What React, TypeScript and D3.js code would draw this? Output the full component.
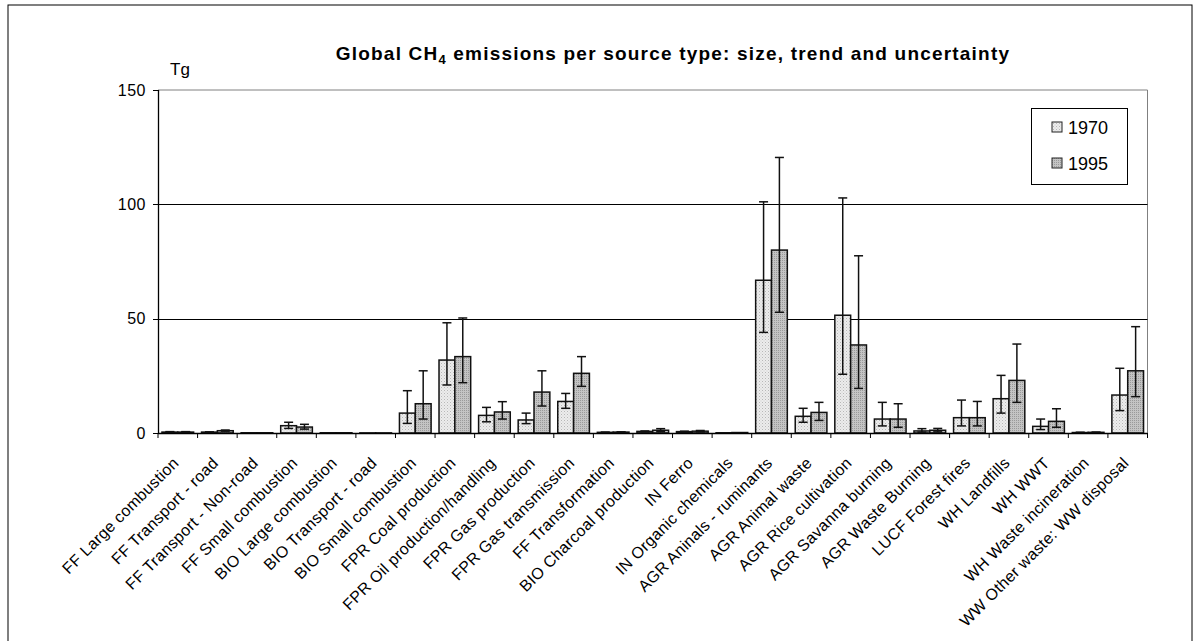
import React from "react";
import * as d3 from "d3";

const categories = [
  "FF Large combustion",
  "FF Transport - road",
  "FF Transport - Non-road",
  "FF Small combustion",
  "BIO Large combustion",
  "BIO Transport - road",
  "BIO Small combustion",
  "FPR Coal production",
  "FPR Oil production/handling",
  "FPR Gas production",
  "FPR Gas transmission",
  "FF Transformation",
  "BIO Charcoal production",
  "IN Ferro",
  "IN Organic chemicals",
  "AGR Aninals - ruminants",
  "AGR Animal waste",
  "AGR Rice cultivation",
  "AGR Savanna burning",
  "AGR Waste Burning",
  "LUCF Forest fires",
  "WH Landfills",
  "WH WWT",
  "WH Waste incineration",
  "WW Other waste: WW disposal",
];

const years = ["1970", "1995"];

const v1970 = [0.4, 0.4, 0.1, 3.2, 0.1, 0.05, 8.7, 31.9, 7.7, 5.7, 13.8, 0.3, 0.7, 0.6, 0.1, 66.8, 7.3, 51.5, 6.1, 0.9, 6.7, 15.0, 2.9, 0.2, 16.6];
const lo1970 = [0.3, 0.3, 0.1, 2.0, 0.1, 0.05, 4.2, 21.0, 4.9, 4.1, 10.8, 0.2, 0.5, 0.4, 0.1, 44.0, 4.7, 25.7, 3.1, 0.4, 3.1, 8.7, 1.5, 0.2, 9.8];
const hi1970 = [0.6, 0.5, 0.1, 4.7, 0.1, 0.05, 18.5, 48.2, 11.2, 8.7, 17.3, 0.4, 0.9, 0.8, 0.1, 101.1, 10.8, 102.8, 13.4, 1.9, 14.4, 25.2, 6.1, 0.3, 28.3];

const v1995 = [0.4, 1.0, 0.1, 2.6, 0.1, 0.05, 12.8, 33.4, 9.2, 17.9, 26.1, 0.4, 1.2, 0.8, 0.2, 80.0, 9.0, 38.5, 6.1, 1.2, 6.7, 23.0, 5.1, 0.3, 27.2];
const lo1995 = [0.3, 0.8, 0.1, 1.7, 0.1, 0.05, 6.1, 22.0, 6.1, 11.8, 20.4, 0.3, 0.6, 0.5, 0.2, 52.8, 5.5, 19.5, 2.5, 0.5, 3.1, 13.4, 2.5, 0.2, 15.9];
const hi1995 = [0.6, 1.3, 0.1, 3.8, 0.1, 0.05, 27.2, 50.3, 13.7, 27.2, 33.4, 0.5, 1.9, 1.1, 0.2, 120.5, 13.4, 77.5, 12.8, 2.0, 13.8, 38.9, 10.6, 0.4, 46.5];

const yTicks = [0, 50, 100, 150];

const FONT = "Arial, 'Liberation Sans', Helvetica, sans-serif";

export default function App() {
  const W = 1200;
  const H = 641;
  const left = 158;
  const right = 1147.5;
  const top = 90;
  const bottom = 433;

  const x = d3.scaleBand<string>().domain(categories).range([left, right]).paddingInner(0).paddingOuter(0);
  const xi = d3.scaleBand<string>().domain(years).range([0, x.bandwidth()]).paddingInner(0).paddingOuter(0.25);
  const y = d3.scaleLinear().domain([0, 150]).range([bottom, top]);

  const series = [
    { year: "1970", v: v1970, lo: lo1970, hi: hi1970, fill: "url(#pat1970)" },
    { year: "1995", v: v1995, lo: lo1995, hi: hi1995, fill: "url(#pat1995)" },
  ];

  const capW = 9;

  return (
    <svg width={W} height={H} style={{ position: "absolute", left: 0, top: 0, background: "#fff" }} fontFamily={FONT}>
      <defs>
        <pattern id="pat1970" width="3" height="3" patternUnits="userSpaceOnUse">
          <rect width="3" height="3" fill="#ececec" />
          <rect x="0" y="0" width="1" height="1" fill="#b8b8b8" />
          <rect x="1.5" y="1.5" width="1" height="1" fill="#cfcfcf" />
        </pattern>
        <pattern id="pat1995" width="2" height="2" patternUnits="userSpaceOnUse">
          <rect width="2" height="2" fill="#c4c4c4" />
          <rect x="0" y="0" width="1" height="1" fill="#9a9a9a" />
        </pattern>
      </defs>
      <rect x={0} y={0} width={W} height={H} fill="#fff" />
      {/* outer chart border */}
      <rect x={8} y={5} width={1184} height={650} fill="none" stroke="#000" strokeWidth={1} />

      {/* title */}
      <text x={673} y={60} textAnchor="middle" fontSize={19} fontWeight="bold" fill="#000" letterSpacing={1.2}>
        Global CH<tspan fontSize={13} dy={4}>4</tspan>
        <tspan dy={-4}> emissions per source type: size, trend and uncertainty</tspan>
      </text>

      {/* Tg label */}
      <text x={170} y={75} fontSize={17} fill="#000">Tg</text>

      {/* plot border (top & right grey) */}
      <line x1={left} x2={right} y1={top} y2={top} stroke="#808080" strokeWidth={1} />
      <line x1={right} x2={right} y1={top} y2={bottom} stroke="#808080" strokeWidth={1} />

      {/* gridlines */}
      {yTicks.filter((t) => t > 0 && t < 150).map((t) => (
        <line key={"g" + t} x1={left} x2={right} y1={Math.round(y(t)) + 0.5} y2={Math.round(y(t)) + 0.5} stroke="#000" strokeWidth={1} />
      ))}

      {/* y axis */}
      <line x1={left + 0.5} x2={left + 0.5} y1={top} y2={bottom} stroke="#000" strokeWidth={1.3} />
      {yTicks.map((t) => (
        <g key={"yt" + t}>
          <line x1={left - 5} x2={left} y1={Math.round(y(t)) + 0.5} y2={Math.round(y(t)) + 0.5} stroke="#000" />
          <text x={left - 12} y={y(t)} dy="0.36em" textAnchor="end" fontSize={16} fill="#000" letterSpacing={0.5}>{t}</text>
        </g>
      ))}

      {/* bars */}
      {series.map((s) =>
        categories.map((c, i) => {
          const bx = (x(c) as number) + (xi(s.year) as number);
          const bw = xi.bandwidth();
          const yv = y(s.v[i]);
          return (
            <rect key={s.year + c} x={bx} y={yv} width={bw} height={bottom - yv} fill={s.fill} stroke="#111" strokeWidth={1.5} />
          );
        })
      )}

      {/* error bars */}
      {series.map((s) =>
        categories.map((c, i) => {
          if (s.hi[i] - s.lo[i] < 0.05) return null;
          const cx = (x(c) as number) + (xi(s.year) as number) + xi.bandwidth() / 2;
          return (
            <g key={"e" + s.year + c} stroke="#111" strokeWidth={1.5}>
              <line x1={cx} x2={cx} y1={y(s.lo[i])} y2={y(s.hi[i])} />
              <line x1={cx - capW / 2} x2={cx + capW / 2} y1={y(s.lo[i])} y2={y(s.lo[i])} />
              <line x1={cx - capW / 2} x2={cx + capW / 2} y1={y(s.hi[i])} y2={y(s.hi[i])} />
            </g>
          );
        })
      )}

      {/* x axis */}
      <line x1={left} x2={right} y1={bottom + 0.5} y2={bottom + 0.5} stroke="#000" strokeWidth={1.5} />
      {categories.map((c) => (
        <line key={"xt" + c} x1={x(c) as number} x2={x(c) as number} y1={bottom} y2={bottom + 5} stroke="#000" />
      ))}
      <line x1={right} x2={right} y1={bottom} y2={bottom + 5} stroke="#000" />

      {/* x labels */}
      {categories.map((c) => {
        const cx = (x(c) as number) + x.bandwidth() / 2;
        return (
          <text key={"xl" + c} transform={`translate(${cx + 2},${bottom + 31}) rotate(-45)`} textAnchor="end" fontSize={16} fill="#000" letterSpacing={0.3}>
            {c}
          </text>
        );
      })}

      {/* legend */}
      <rect x={1031.5} y={108.5} width={96} height={76} fill="#fff" stroke="#000" strokeWidth={1} />
      {series.map((s, k) => (
        <g key={"lg" + s.year}>
          <rect x={1052} y={122 + k * 36} width={10} height={10} fill={s.fill} stroke="#222" strokeWidth={1} />
          <text x={1068} y={127.5 + k * 36} dy="0.36em" fontSize={18} fill="#000">{s.year}</text>
        </g>
      ))}
    </svg>
  );
}
